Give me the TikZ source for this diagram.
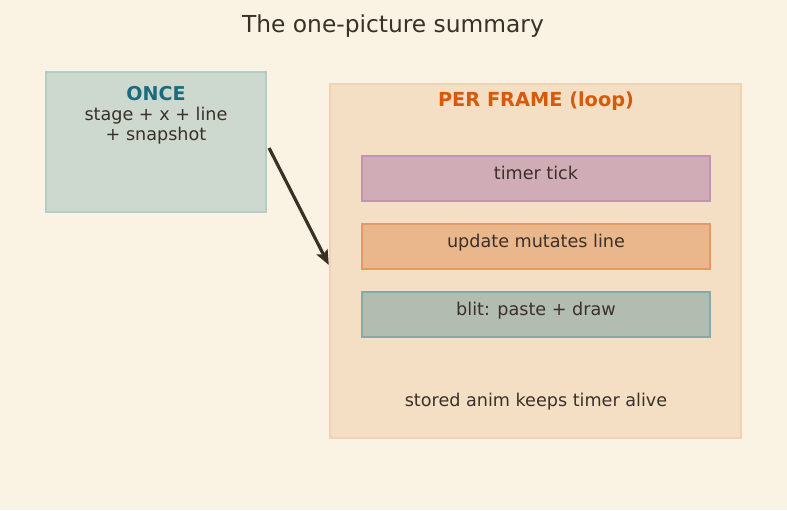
\documentclass[tikz,border=0pt]{standalone}
\usepackage{fontspec}
\setmainfont{DejaVu Sans}
\usepackage{xcolor}
\usetikzlibrary{arrows.meta,positioning}

\definecolor{paper}{RGB}{250,243,227}
\definecolor{ink}{RGB}{58,48,40}
\definecolor{teal}{RGB}{26,107,128}
\definecolor{rust}{RGB}{214,90,10}
\definecolor{oncefill}{RGB}{205,216,206}
\definecolor{onceline}{RGB}{178,206,196}
\definecolor{framefill}{RGB}{245,223,196}
\definecolor{frameline}{RGB}{238,212,182}
\definecolor{tickfill}{RGB}{208,172,183}
\definecolor{tickline}{RGB}{190,150,180}
\definecolor{updfill}{RGB}{234,182,140}
\definecolor{updline}{RGB}{232,152,100}
\definecolor{blitfill}{RGB}{178,188,176}
\definecolor{blitline}{RGB}{132,170,165}

\tikzset{
  stepbox/.style={draw, line width=0.9pt, minimum width=261pt, minimum height=33.75pt, inner sep=0pt},
  boxtext/.style={font=\fontsize{13.2}{15}\selectfont, text=ink},
}

\begin{document}
\begin{tikzpicture}[x=0.75pt, y=-0.75pt]
      % canvas
      \fill[paper] (0,0) rectangle (787,510);
      \useasboundingbox (0,0) rectangle (787,510);
      % title
      \node[boxtext, font=\fontsize{17.5}{20}\selectfont] (title) at (393,26.5) {The one-picture summary};
      % setup, done a single time
      \node[draw=onceline, fill=oncefill, line width=1.6pt, minimum width=165pt, minimum height=105pt,
        label={[anchor=north, yshift=-8pt, align=center, boxtext]north:{\fontsize{14.3}{15}\selectfont\bfseries\color{teal}ONCE}\\stage + x + line\\+ snapshot}]
        (once) at (156,142) {};
      % the loop
      \node[draw=frameline, fill=framefill, line width=1.8pt, minimum width=308.25pt, minimum height=265.5pt]
        (frame) at (535.5,261) {};
      \node[font=\fontsize{14.5}{16}\selectfont\bfseries, text=rust] (frametitle) at (536,101) {PER FRAME (loop)};
      \node[stepbox, draw=tickline, fill=tickfill, label={[boxtext, yshift=4pt]center:timer tick}] (tick) at (536,178.5) {};
      \node[stepbox, draw=updline, fill=updfill, label={[boxtext, yshift=3pt]center:update mutates line}] (update) at (536,246.5) {};
      \node[stepbox, draw=blitline, fill=blitfill, label={[boxtext, yshift=3pt]center:blit: paste + draw}] (blit) at (536,314.5) {};
      \node[boxtext] (alive) at (536,401.5) {stored anim keeps timer alive};
      % hand-over
      \draw[ink, line width=2.4pt, -{Stealth[length=11pt, width=9pt, inset=2pt]}] ([shift={(2,6)}]once.east) -- ([yshift=-3pt]frame.west);
    \end{tikzpicture}
\end{document}
